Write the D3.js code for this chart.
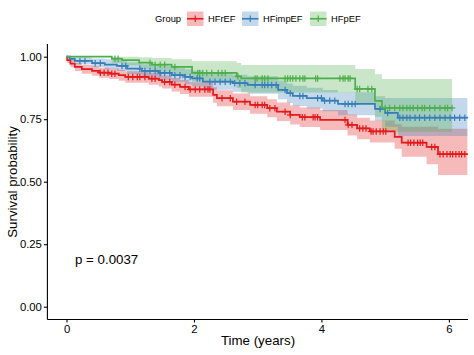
<!DOCTYPE html>
<html><head><meta charset="utf-8">
<script src="https://cdn.jsdelivr.net/npm/d3@7"></script>
<style>body{margin:0;background:#fff}svg{display:block;font-family:"Liberation Sans",Arial,sans-serif}</style>
</head><body>
<svg id="chart" width="474" height="355"></svg>
<script>
const groups = ["HFrEF", "HFimpEF", "HFpEF"];
const colors = ["#E41A1C", "#377EB8", "#4DAF4A"];
const xTicks = [0, 2, 4, 6];
const yTicks = [0, 0.25, 0.5, 0.75, 1];
const pLabel = "p = 0.0037";
const endTimes = [6.29, 6.29, 6.05];

const hfrefTime  = [0,0.01,0.06,0.13,0.24,0.4,0.51,0.67,0.82,0.92,1.29,1.45,1.5,1.65,1.78,1.92,2.3,2.36,2.61,2.88,3.15,3.3,3.51,3.66,3.98,4.41,4.56,4.76,5.15,5.26,5.65,5.83];
const hfrefSurv  = [1,0.986,0.972,0.959,0.95,0.943,0.936,0.932,0.926,0.919,0.912,0.906,0.899,0.888,0.879,0.869,0.847,0.834,0.82,0.807,0.794,0.78,0.767,0.758,0.747,0.727,0.713,0.701,0.679,0.656,0.639,0.61];
const hfrefLower = [1,0.975,0.958,0.943,0.932,0.924,0.916,0.911,0.904,0.896,0.888,0.881,0.873,0.861,0.851,0.84,0.816,0.802,0.787,0.772,0.758,0.743,0.729,0.719,0.707,0.685,0.67,0.657,0.632,0.6,0.57,0.527];
const hfrefUpper = [1,0.997,0.986,0.975,0.968,0.962,0.956,0.953,0.948,0.942,0.936,0.931,0.925,0.915,0.907,0.898,0.878,0.866,0.853,0.842,0.83,0.817,0.805,0.797,0.787,0.769,0.756,0.745,0.73,0.72,0.72,0.712];
const hfrefCensor = [0.53,0.59,0.65,0.71,0.76,0.97,1.04,1.11,1.15,1.23,1.34,1.39,1.54,1.62,1.7,1.86,1.94,2.02,2.09,2.17,2.22,2.25,2.44,2.57,2.67,2.8,2.96,3.0,3.07,3.11,3.19,3.27,3.43,3.51,3.7,3.74,3.87,3.9,3.94,4.37,4.42,4.48,4.6,4.65,4.7,4.78,4.81,4.86,4.92,4.97,5.01,5.36,5.4,5.45,5.51,5.55,5.59,5.73,5.78,5.86,5.91,5.97,6.02,6.06,6.11,6.16,6.2,6.25];

const hfimpTime  = [0,0.05,0.13,0.4,0.6,0.79,0.95,1.18,1.45,1.65,1.86,1.97,2.14,2.61,2.84,3.32,3.46,3.55,3.77,4.02,4.26,4.84,5.0,5.2];
const hfimpSurv  = [1,0.991,0.983,0.974,0.968,0.963,0.952,0.943,0.935,0.926,0.919,0.913,0.9,0.894,0.887,0.867,0.854,0.843,0.834,0.824,0.811,0.791,0.775,0.756];
const hfimpLower = [1,0.98,0.97,0.958,0.95,0.943,0.93,0.918,0.908,0.898,0.89,0.882,0.868,0.86,0.852,0.83,0.815,0.803,0.793,0.782,0.766,0.744,0.72,0.683];
const hfimpUpper = [1,1,0.998,0.993,0.99,0.987,0.978,0.97,0.963,0.956,0.95,0.945,0.934,0.928,0.922,0.905,0.893,0.884,0.876,0.867,0.858,0.842,0.835,0.835];
const hfimpCensor = [0.21,0.29,0.45,0.53,0.87,0.93,1.15,1.23,1.31,1.39,1.47,1.54,1.62,1.7,1.78,1.86,1.94,2.05,2.09,2.25,2.33,2.41,2.49,2.57,2.64,2.72,2.8,2.96,3.07,3.11,3.16,3.22,3.29,3.43,3.51,3.66,3.71,3.94,4.0,4.05,4.13,4.21,4.37,4.42,4.48,4.53,4.92,5.04,5.23,5.28,5.34,5.39,5.47,5.54,5.62,5.7,5.78,5.86,5.94,6.02,6.09,6.17,6.25];

const hfpefTime  = [0,0.71,0.87,1.14,1.34,1.65,1.97,2.67,2.74,4.53,4.84,4.95];
const hfpefSurv  = [1,0.992,0.986,0.976,0.968,0.959,0.935,0.921,0.913,0.871,0.823,0.795];
const hfpefLower = [1,0.975,0.965,0.95,0.94,0.925,0.9,0.875,0.857,0.815,0.76,0.7];
const hfpefUpper = [1,1,1,0.998,0.995,0.99,0.982,0.975,0.967,0.951,0.93,0.911];
const hfpefCensor = [0.76,0.81,1.31,1.39,1.47,1.54,1.7,2.06,2.09,2.14,2.2,2.28,2.38,2.44,2.49,2.69,2.96,2.99,3.07,3.11,3.16,3.43,3.47,3.51,3.55,3.6,3.66,3.71,3.74,3.91,3.94,4.29,4.34,4.37,4.42,4.45,4.56,4.6,4.73,4.79,5.0,5.07,5.15,5.23,5.28,5.34,5.39,5.44,5.51,5.58,5.62,5.7,5.78,5.86,5.94,5.98,6.05];

const series = [
  {time: hfrefTime, surv: hfrefSurv, lower: hfrefLower, upper: hfrefUpper, censor: hfrefCensor},
  {time: hfimpTime, surv: hfimpSurv, lower: hfimpLower, upper: hfimpUpper, censor: hfimpCensor},
  {time: hfpefTime, surv: hfpefSurv, lower: hfpefLower, upper: hfpefUpper, censor: hfpefCensor}
];

const svg = d3.select("#chart");
const x = d3.scaleLinear().domain([-0.3, 6.3]).range([47.4, 468]);
const y = d3.scaleLinear().domain([0, 1]).range([306.7, 56.7]);

// legend
const lg = svg.append("g");
lg.append("text").attr("x", 155).attr("y", 22.3).attr("font-size", 9.4).attr("fill", "#000").text("Group");
const keyX = [187, 242, 310];
groups.forEach((g, i) => {
  const k = lg.append("g").attr("transform", `translate(${keyX[i]},11.5)`);
  k.append("rect").attr("width", 16.5).attr("height", 14.5).attr("fill", colors[i]).attr("fill-opacity", 0.3);
  k.append("line").attr("x1", 0).attr("x2", 16.5).attr("y1", 7.25).attr("y2", 7.25).attr("stroke", colors[i]).attr("stroke-width", 1.6);
  k.append("line").attr("x1", 8.25).attr("x2", 8.25).attr("y1", 4).attr("y2", 10.5).attr("stroke", colors[i]).attr("stroke-width", 1.2);
  lg.append("text").attr("x", keyX[i] + 21).attr("y", 22.3).attr("font-size", 9.4).attr("fill", "#000").text(g);
});

const plot = svg.append("g");
const toPts = s => s.time.map((t, j) => ({t, s: s.surv[j], lo: s.lower[j], hi: s.upper[j]}));

// ribbons
series.forEach((s, i) => {
  const pts = toPts(s);
  pts.push(Object.assign({}, pts[pts.length - 1], {t: endTimes[i]}));
  const area = d3.area().curve(d3.curveStepAfter).x(d => x(d.t)).y0(d => y(d.lo)).y1(d => y(d.hi));
  plot.append("path").attr("d", area(pts)).attr("fill", colors[i]).attr("fill-opacity", 0.3);
});

// lines + censors
series.forEach((s, i) => {
  const pts = toPts(s);
  pts.push(Object.assign({}, pts[pts.length - 1], {t: endTimes[i]}));
  const line = d3.line().curve(d3.curveStepAfter).x(d => x(d.t)).y(d => y(d.s));
  plot.append("path").attr("d", line(pts)).attr("fill", "none").attr("stroke", colors[i]).attr("stroke-width", 1.7);
  const survAt = t => { let v = s.surv[0]; s.time.forEach((tt, j) => { if (tt <= t) v = s.surv[j]; }); return v; };
  s.censor.forEach(c => {
    const cx = x(c), cy = y(survAt(c));
    plot.append("line").attr("x1", cx).attr("x2", cx).attr("y1", cy - 3.3).attr("y2", cy + 3.3).attr("stroke", colors[i]).attr("stroke-width", 1.2);
    plot.append("line").attr("x1", cx - 3.3).attr("x2", cx + 3.3).attr("y1", cy).attr("y2", cy).attr("stroke", colors[i]).attr("stroke-width", 1.2);
  });
});

// axes
const xAxis = d3.axisBottom(x).tickValues(xTicks).tickFormat(d3.format("d")).tickSizeOuter(0).tickSize(3.5);
const yAxis = d3.axisLeft(y).tickValues(yTicks).tickFormat(d3.format(".2f")).tickSizeOuter(0).tickSize(3.5);
const gx = svg.append("g").attr("transform", "translate(0,319)").call(xAxis);
gx.select(".domain").attr("d", `M47.4,0.5H468`);
const gy = svg.append("g").attr("transform", "translate(47.4,0)").call(yAxis);
gy.select(".domain").attr("d", `M0,44H0V319.5`);
[gx, gy].forEach(g => {
  g.selectAll("path,line").attr("stroke", "#000").attr("stroke-width", 1.1);
  g.selectAll("text").attr("fill", "#000").attr("font-size", 11.3).attr("font-family", '"Liberation Sans",Arial,sans-serif');
});
gx.selectAll("text").attr("dy", null).attr("y", 14);
gy.selectAll("text").attr("x", -5.5);

svg.append("text").attr("x", 258).attr("y", 345).attr("text-anchor", "middle").attr("font-size", 13.3).attr("fill", "#000").text("Time (years)");
svg.append("text").attr("transform", "translate(16.5,182) rotate(-90)").attr("text-anchor", "middle").attr("font-size", 13.3).attr("fill", "#000").text("Survival probability");
svg.append("text").attr("x", 75).attr("y", 264).attr("font-size", 13.3).attr("fill", "#000").text(pLabel);
</script>
</body></html>
